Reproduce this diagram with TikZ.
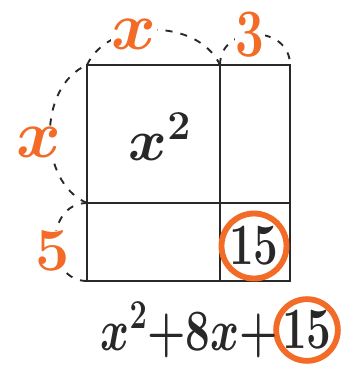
\RequirePackage{fix-cm}
\documentclass[tikz,border=0pt]{standalone}
\usepackage{amsmath}
\usepackage{graphicx}
\usetikzlibrary{positioning}
\definecolor{hand}{RGB}{242,108,40}
\definecolor{pen}{RGB}{40,40,40}
\newcommand{\narrow}[2]{\scalebox{#1}[1]{#2}}

\begin{document}
\begin{tikzpicture}[x=0.03cm, y=-0.03cm,
  cell/.style={draw=pen, line width=1.8pt, outer sep=0pt, inner sep=0pt},
  dimarc/.style={draw=pen, line width=1.6pt, dash pattern=on 6pt off 7pt},
  dimlab/.style={text=hand, fill=white, inner sep=0.5pt, font=\fontsize{58}{58}\selectfont\boldmath},
  ink/.style={text=pen, inner sep=0pt, font=\fontsize{50}{50}\selectfont\boldmath},
  ring/.style={circle, draw=hand, line width=5pt, inner sep=0pt},
]
  \path[use as bounding box] (0,0) rectangle (344,367);

  % area model
  \node[cell, minimum width=3.99cm, minimum height=4.14cm, anchor=north west] (sq) at (87,65) {};
  \node[cell, minimum width=2.1cm, minimum height=4.14cm, right=0pt of sq] (rt) {};
  \node[cell, minimum width=3.99cm, minimum height=2.34cm, below=0pt of sq] (bl) {};
  \node[cell, minimum width=2.1cm, minimum height=2.34cm, below=0pt of rt] (br) {};

  \node[ink] (xsq) at (160,137) {$x^2$};
  \node[ring, minimum size=1.95cm] (ringa) at (254,246) {};
  \node[ink] (fifteen) at (ringa) {\narrow{0.75}{$15$}};

  % side lengths
  \draw[dimarc] (sq.north west) to[bend left=65] node[dimlab, pos=0.38, yshift=-2pt] (lx) {$x$} (sq.north east);
  \draw[dimarc] (rt.north west) to[bend left=90, looseness=1.5] node[dimlab, pos=0.45] (l3) {\narrow{0.75}{$3$}} (rt.north east);
  \draw[dimarc] (sq.south west) to[bend left=67] node[dimlab, pos=0.45, xshift=-0.35cm] (ly) {$x$} (sq.north west);
  \draw[dimarc] (bl.south west) to[bend left=90, looseness=1.4] node[dimlab, pos=0.42, xshift=-0.1cm, font=\fontsize{52}{52}\selectfont\boldmath] (l5) {$5$} (bl.north west);

  % result
  \node[ring, minimum size=1.85cm] (ringb) at (307,330) {};
  \node[ink] (rest) at (ringb) {\narrow{0.75}{$15$}};
  \node[ink, anchor=east, xshift=0.15cm] (poly) at (ringb.west) {\narrow{0.75}{$x^2{+}8x{+}$}};
\end{tikzpicture}
\end{document}
